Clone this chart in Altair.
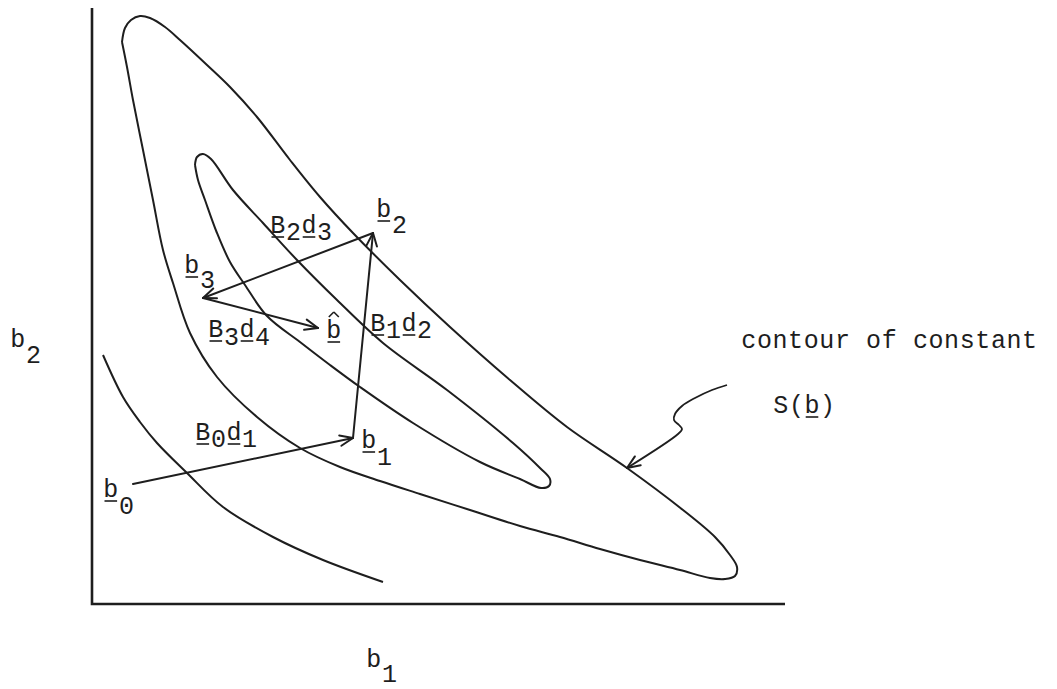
import altair as alt
import numpy as np
import pandas as pd

# Diagram coordinates: b1 runs right from the corner of the axes, b2 runs up.

# Outer contour of constant S(b) (closed loop)
outer_b1 = [30, 33, 39, 48, 58, 73, 88, 115, 138, 165, 198, 228, 261, 308, 358, 418, 475, 535,
            591, 623, 638, 645, 643, 633, 618, 588, 548, 508, 468, 428, 378, 328, 288, 248, 208,
            165, 125, 98, 81, 71, 61, 51, 41, 35, 30]
outer_b2 = [562, 576, 584, 588, 586, 577, 564, 539, 517, 487, 444, 407, 371, 324, 277, 224, 177, 136,
            94, 67, 49, 37, 28, 25, 26, 34, 44, 55, 67, 78, 94, 110, 123, 137, 156,
            187, 227, 271, 321, 354, 404, 454, 504, 537, 562]

# Inner contour (closed loop)
inner_b1 = [103, 105, 111, 119, 141, 171, 205, 245, 291, 355, 421, 448, 458, 457, 449, 428, 388,
            321, 268, 238, 208, 175, 153, 138, 125, 113, 106, 103]
inner_b2 = [439, 447, 450, 445, 414, 381, 344, 304, 261, 214, 161, 136, 125, 118, 116, 125, 142,
            181, 217, 239, 262, 288, 319, 342, 371, 404, 424, 439]

# Lower-left contour (open)
lower_b1 = [11, 31, 48, 65, 95, 131, 181, 231, 291]
lower_b2 = [249, 207, 182, 161, 131, 97, 67, 44, 22]

# Coordinate axes
axis_b1 = [0, 0, 693]
axis_b2 = [596, 0, 0]

# Iterates b0 -> b1 -> b2 -> b3 -> b-hat
iter_b1 = [41, 261, 281, 111, 226]
iter_b2 = [120, 166, 371, 306, 276]

# Wavy leader from the annotation to the outer contour
leader_b1 = [635, 620, 603, 590, 583, 582, 587, 590, 586, 535]
leader_b2 = [219, 214, 206, 198, 190, 184, 179, 175, 170, 136]

# Typewritten labels: text, left edge, baseline, subscript chars, underlined chars, subscript drop
label_text = ["b0", "B0d1", "b1", "B1d2", "b2", "B2d3", "b3", "B3d4", "b",
              "contour of constant", "S(b)", "b2", "b1"]
label_x = [11, 103, 269, 278, 284, 178, 92, 116, 234, 649, 681, -82, 274]
label_y = [107, 164, 156, 273, 387, 371, 331, 267, 266, 256, 191, 257, -63]
label_sub = [[1], [1, 3], [1], [1, 3], [1], [1, 3], [1], [1, 3], [], [], [], [1], [1]]
label_ul = [[0], [0, 2], [0], [0, 2], [0], [0, 2], [0], [0, 2], [0], [], [2], [], []]
label_drop = [17, 7, 17, 7, 16, 7, 15, 8, 0, 0, 0, 16, 15]
hat_label = 8  # the estimate b-hat carries a circumflex

INK = "#1e1e1e"
FONT = "Liberation Mono"
FONT_SIZE = 25
ADV = 15.6  # typewriter character pitch

xs = alt.Scale(domain=[-92, 965], nice=False, zero=False)
ys = alt.Scale(domain=[-85, 604], nice=False, zero=False)


def path_frame(name, bx, by):
    return pd.DataFrame({"curve": name, "i": range(len(bx)), "b1": bx, "b2": by})


curves = pd.concat([
    path_frame("outer", outer_b1, outer_b2),
    path_frame("inner", inner_b1, inner_b2),
    path_frame("lower", lower_b1, lower_b2),
])
leader = path_frame("leader", leader_b1, leader_b2)
axes_df = path_frame("axes", axis_b1, axis_b2)


def arrow_head(x0, y0, x1, y1, length=14.0, half_angle=22.0):
    d = np.array([x0 - x1, y0 - y1], dtype=float)
    d /= np.hypot(*d)
    out = []
    for s in (1, -1):
        a = np.radians(s * half_angle)
        r = np.array([d[0] * np.cos(a) - d[1] * np.sin(a), d[0] * np.sin(a) + d[1] * np.cos(a)])
        out.append((x1, y1, x1 + length * r[0], y1 + length * r[1]))
    return out


segs = []
for k in range(len(iter_b1) - 1):
    x0, y0, x1, y1 = iter_b1[k], iter_b2[k], iter_b1[k + 1], iter_b2[k + 1]
    segs.append((x0, y0, x1, y1))
    segs += arrow_head(x0, y0, x1, y1)
segs += arrow_head(leader_b1[-2], leader_b2[-2], leader_b1[-1], leader_b2[-1])
seg_df = pd.DataFrame(segs, columns=["x", "y", "x2", "y2"])

chars, strokes = [], []
for n, text in enumerate(label_text):
    for i, ch in enumerate(text):
        if ch == " ":
            continue
        sub = i in label_sub[n]
        chars.append({"ch": ch, "x": label_x[n] + (i + 0.5) * ADV,
                      "y": label_y[n] - (label_drop[n] if sub else 0)})
        if i in label_ul[n]:
            left = label_x[n] + i * ADV + 1.5
            strokes.append({"x": left, "x2": left + ADV - 3,
                            "y": label_y[n] - 4, "y2": label_y[n] - 4})
    if n == hat_label:
        # circumflex drawn as a small chevron over the first character
        cx = label_x[n] + 0.5 * ADV
        top = label_y[n] + 26
        strokes.append({"x": cx - 5, "x2": cx, "y": top - 5, "y2": top})
        strokes.append({"x": cx, "x2": cx + 5, "y": top, "y2": top - 5})
char_df = pd.DataFrame(chars)
stroke_df = pd.DataFrame(strokes)

contours = alt.Chart(curves).mark_line(
    interpolate="catmull-rom", color=INK, strokeWidth=2
).encode(
    x=alt.X("b1:Q", scale=xs, axis=None),
    y=alt.Y("b2:Q", scale=ys, axis=None),
    detail="curve:N",
    order="i:Q",
)

leader_line = alt.Chart(leader).mark_line(
    interpolate="catmull-rom", color=INK, strokeWidth=1.8
).encode(
    x=alt.X("b1:Q", scale=xs, axis=None),
    y=alt.Y("b2:Q", scale=ys, axis=None),
    order="i:Q",
)

axes_line = alt.Chart(axes_df).mark_line(color=INK, strokeWidth=2.6).encode(
    x=alt.X("b1:Q", scale=xs, axis=None),
    y=alt.Y("b2:Q", scale=ys, axis=None),
    order="i:Q",
)

arrows = alt.Chart(seg_df).mark_rule(color=INK, strokeWidth=2, strokeCap="round").encode(
    x=alt.X("x:Q", scale=xs, axis=None),
    y=alt.Y("y:Q", scale=ys, axis=None),
    x2="x2:Q",
    y2="y2:Q",
)

label_strokes = alt.Chart(stroke_df).mark_rule(color=INK, strokeWidth=1.6).encode(
    x=alt.X("x:Q", scale=xs, axis=None),
    y=alt.Y("y:Q", scale=ys, axis=None),
    x2="x2:Q",
    y2="y2:Q",
)

letters = alt.Chart(char_df).mark_text(
    font=FONT, fontSize=FONT_SIZE, color=INK, align="center", baseline="alphabetic"
).encode(
    x=alt.X("x:Q", scale=xs, axis=None),
    y=alt.Y("y:Q", scale=ys, axis=None),
    text="ch:N",
)

chart = alt.layer(axes_line, contours, leader_line, arrows, label_strokes, letters).properties(
    width=1057,
    height=689,
    autosize=alt.AutoSizeParams(type="none"),
    padding=0,
    background="white",
).configure_view(stroke=None)

chart.save("out.html", embed_options={"renderer": "svg", "actions": False})
